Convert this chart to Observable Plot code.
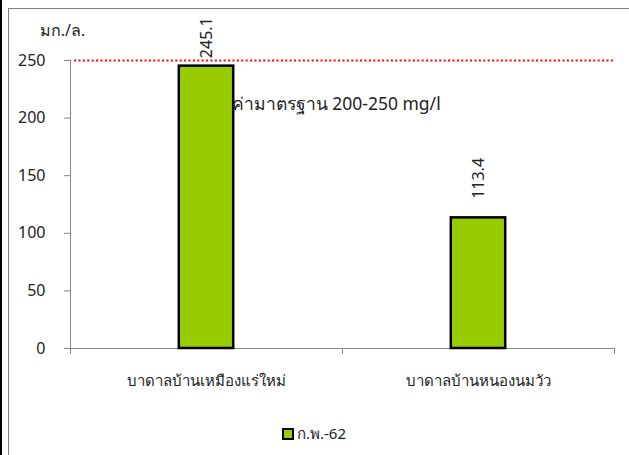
<!DOCTYPE html>
<html><head><meta charset="utf-8">
<script src="https://cdn.jsdelivr.net/npm/d3@7"></script>
<script src="https://cdn.jsdelivr.net/npm/@observablehq/plot@0.6"></script>
<style>
body{margin:0;background:#fff;}
#wrap{position:relative;width:629px;height:455px;overflow:hidden;font-family:"Noto Sans","Open Sans",Lato,sans-serif;color:#222;}
#chart{position:absolute;left:0;top:0;}
.bl{position:absolute;left:0;top:0;width:2px;height:455px;background:#000;}
.frame{position:absolute;left:8px;top:8px;width:640px;height:460px;border:1px solid #7f7f7f;box-sizing:border-box;}
#legend{position:absolute;left:282px;top:422px;display:flex;align-items:center;font-size:15px;}
#legend .sw{width:12px;height:12px;box-sizing:border-box;border:2px solid #000;margin-right:3px;}
</style>
</head><body>
<div id="wrap"><div class="bl"></div><div class="frame"></div><div id="chart"></div><div id="legend"></div></div>
<script>
const categories = ["บาดาลบ้านเหมืองแร่ใหม่", "บาดาลบ้านหนองนมวัว"];
const values = [245.1, 113.4];
const seriesName = "ก.พ.-62";
const standardValue = 250;
const standardLabel = "ค่ามาตรฐาน 200-250 mg/l";
const yTicks = [0, 50, 100, 150, 200, 250];
const yLabel = "มก./ล.";
const barColor = "#99CC00";

const data = categories.map((c, i) => ({i, cat: c, value: values[i]}));
const bounds = d3.range(categories.length + 1);

const chart = Plot.plot({
  width: 629, height: 400,
  marginLeft: 70, marginRight: 15, marginTop: 60, marginBottom: 52,
  style: {fontFamily: '"Noto Sans","Open Sans",Lato,sans-serif', color: "#222", background: "transparent"},
  x: {domain: [0, categories.length], axis: null},
  y: {domain: [0, 250], axis: null},
  marks: [
    Plot.ruleX([0], {y1: 0, y2: 250, stroke: "#868686"}),
    Plot.axisY({ticks: yTicks, tickSize: 6, tickPadding: 19, fontSize: 16, stroke: "#868686", fill: "#222", label: null}),
    Plot.axisX({ticks: bounds, tickSize: 6, tickFormat: () => "", stroke: "#868686", label: null}),
    Plot.ruleY([0], {x1: 0, x2: categories.length, stroke: "#868686"}),
    Plot.rectY(data, {x1: d => d.i + 0.4, x2: d => d.i + 0.6, y: "value", fill: barColor, stroke: "#000", strokeWidth: 2.5}),
    Plot.ruleY([standardValue], {x1: 0.015, x2: categories.length, stroke: "red", strokeWidth: 2.2, strokeDasharray: "2,2.4"}),
    Plot.text(data.filter(d => d.i === 0), {x: d => d.i + 0.5, y: "value", text: d => d.value.toFixed(1), rotate: -90, textAnchor: "start", dy: -8, fontSize: 16, fill: "#222"}),
    Plot.text(data.filter(d => d.i === 1), {x: d => d.i + 0.5, y: "value", text: d => d.value.toFixed(1), rotate: -90, textAnchor: "start", dy: -19, fontSize: 16, fill: "#222"}),
    Plot.text(data, {x: d => d.i + 0.5, y: 0, text: "cat", dy: 33, fontSize: 15, fill: "#222"}),
    Plot.text([yLabel], {x: 0, y: 250, text: d => d, dy: -30, dx: -8, fontSize: 16, fill: "#222"}),
    Plot.text([standardLabel], {x: 0.6, y: 212, text: d => d, textAnchor: "start", dx: -2, fontSize: 17.5, fill: "#222"})
  ]
});
document.getElementById("chart").appendChild(chart);
document.getElementById("legend").innerHTML = `<div class="sw" style="background:${barColor}"></div><span>${seriesName}</span>`;
</script>
</body></html>
